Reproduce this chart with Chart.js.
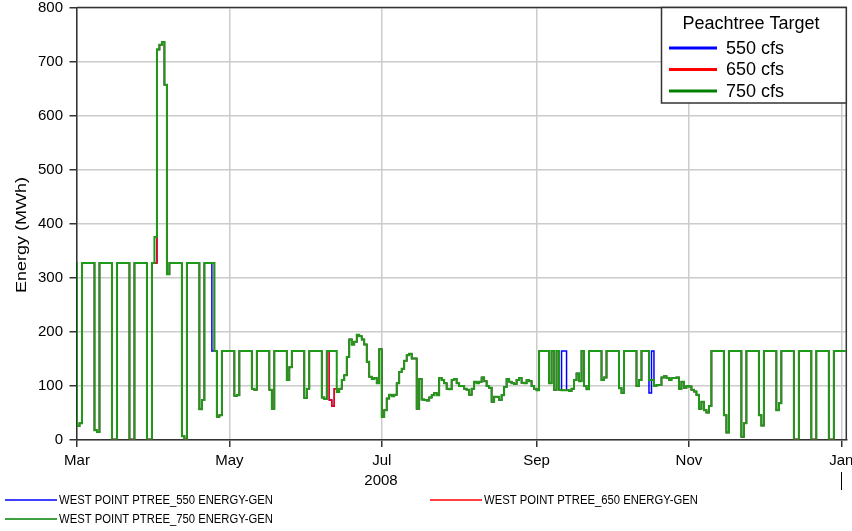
<!DOCTYPE html>
<html>
<head>
<meta charset="utf-8">
<title>West Point Energy Generation 2008</title>
<script src="https://cdn.jsdelivr.net/npm/chart.js@4.4.1/dist/chart.umd.min.js"></script>
<style>
  html, body { margin: 0; padding: 0; background: #fff; }
  #chart { display: block; }
</style>
</head>
<body>
<canvas id="chart" width="852" height="531"></canvas>
<script>
// Daily energy (MWh), one value per day. First entry is Feb 29 2008 (day -1), day 0 = Mar 1.
const firstDay = -1;
const gen750 = [
    // Feb 29, Mar
    327, 25, 30, 327, 327, 327, 327, 327, 17, 14, 327, 327, 327, 327, 327, 0, 0,
    327, 327, 327, 327, 327, 0, 0, 327, 327, 327, 327, 327, 0, 0, 327,
    // Apr
    375, 722, 731, 736, 657, 306, 327, 327, 327, 327, 327, 6, 0, 327, 327, 327, 327, 327,
    56, 73, 327, 327, 327, 327, 164, 42, 45, 164, 164, 164,
    // May
    164, 164, 81, 82, 164, 164, 164, 164, 164, 94, 92, 164, 164, 164, 164, 164, 92, 57,
    164, 164, 164, 164, 164, 110, 134, 164, 164, 164, 164, 164, 77,
    // Jun
    94, 164, 164, 164, 164, 164, 78, 75, 164, 164, 164, 164, 88, 94, 110, 119, 153, 185,
    176, 181, 194, 191, 185, 176, 144, 116, 112, 114, 104, 167,
    // Jul
    42, 54, 76, 83, 80, 83, 104, 125, 131, 146, 156, 159, 150, 150, 57, 112, 74, 73,
    72, 78, 82, 86, 82, 114, 110, 104, 94, 93, 110, 112, 104,
    // Aug
    99, 99, 94, 92, 83, 94, 107, 104, 107, 115, 108, 99, 96, 70, 79, 79, 73, 82,
    97, 112, 107, 104, 103, 110, 114, 105, 104, 110, 108, 99, 94,
    // Sep
    91, 164, 164, 164, 164, 104, 164, 92, 164, 92, 91, 91, 91, 90, 94, 110, 122, 108,
    164, 99, 93, 164, 164, 164, 164, 164, 110, 115, 164, 164,
    // Oct
    164, 164, 164, 95, 86, 164, 164, 164, 164, 164, 99, 110, 164, 164, 164, 110, 110, 99,
    101, 101, 115, 117, 114, 110, 114, 114, 115, 94, 107, 96, 99,
    // Nov
    98, 92, 89, 83, 57, 70, 54, 50, 62, 164, 164, 164, 164, 164, 45, 13, 164, 164,
    164, 164, 164, 5, 30, 164, 164, 164, 164, 164, 45, 26,
    // Dec
    164, 164, 164, 164, 164, 54, 67, 164, 164, 164, 164, 164, 0, 0, 164, 164, 164, 164,
    164, 0, 0, 164, 164, 164, 164, 164, 0, 0, 164, 164, 164,
    // Jan 2009
    164, 164, 164
];

// Days where the 650 / 550 cfs runs differ from the 750 cfs run: [day, MWh]
const diff650 = [[31, 327], [101, 73], [102, 62], [103, 94]];
const diff550 = [[31, 327], [54, 164], [101, 73], [102, 62], [103, 94],
                 [194, 164], [195, 164], [229, 86], [230, 164]];

const monthDays = [0, 61, 122, 184, 245, 306];
const monthLabels = ['Mar', 'May', 'Jul', 'Sep', 'Nov', 'Jan'];
const seriesNames = [
    'WEST POINT PTREE_550 ENERGY-GEN',
    'WEST POINT PTREE_650 ENERGY-GEN',
    'WEST POINT PTREE_750 ENERGY-GEN'
];
const targetLabels = ['550 cfs', '650 cfs', '750 cfs'];
const legendColors = ['#0000ff', '#ff0000', '#008000'];

const FONT = "'Liberation Sans', Arial, sans-serif";
Chart.defaults.font.family = FONT;

function toPoints(values, overrides) {
    const fix = new Map(overrides || []);
    return values.map(function(v, i) {
        const day = firstDay + i;
        return { x: day, y: fix.has(day) ? fix.get(day) : v };
    });
}

// frame, legends and extra labels
const decorations = {
    id: 'decorations',
    beforeDatasetsDraw(chart) {
        const ctx = chart.ctx;
        const a = chart.chartArea;
        ctx.save();
        ctx.strokeStyle = '#333';
        ctx.lineWidth = 1.5;
        ctx.beginPath();
        ctx.moveTo(a.left, a.top);
        ctx.lineTo(a.right, a.top);
        ctx.lineTo(a.right, a.bottom);
        ctx.stroke();
        ctx.restore();
    },
    afterDraw(chart) {
        const ctx = chart.ctx;
        const a = chart.chartArea;
        ctx.save();

        // Peachtree Target legend box
        ctx.fillStyle = '#fff';
        ctx.strokeStyle = '#333';
        ctx.lineWidth = 1.5;
        ctx.fillRect(661.5, a.top, a.right - 661.5, 95.5);
        ctx.strokeRect(661.5, a.top, a.right - 661.5, 95.5);
        ctx.fillStyle = '#000';
        ctx.font = '18px ' + FONT;
        ctx.textAlign = 'center';
        ctx.textBaseline = 'middle';
        ctx.fillText('Peachtree Target', 751, 24);
        ctx.textAlign = 'left';
        targetLabels.forEach(function(lbl, i) {
            const y = 48 + i * 21.5;
            ctx.strokeStyle = legendColors[i];
            ctx.lineWidth = 3;
            ctx.beginPath();
            ctx.moveTo(669, y);
            ctx.lineTo(717, y);
            ctx.stroke();
            ctx.fillText(lbl, 726, y + 1);
        });

        // y axis title
        ctx.save();
        ctx.translate(22, 235);
        ctx.rotate(-Math.PI / 2);
        ctx.scale(1.2, 1);
        ctx.font = '15px ' + FONT;
        ctx.textAlign = 'center';
        ctx.fillText('Energy (MWh)', 0, 0);
        ctx.restore();

        // year label and year boundary mark
        ctx.font = '15px ' + FONT;
        ctx.textAlign = 'center';
        ctx.fillText('2008', 381, 481);
        ctx.strokeStyle = '#000';
        ctx.lineWidth = 1;
        ctx.beginPath();
        ctx.moveTo(841.5, 472);
        ctx.lineTo(841.5, 490);
        ctx.stroke();

        // series legend below the chart
        const spots = [[5, 500], [430, 500], [5, 519]];
        ctx.font = '12px ' + FONT;
        ctx.textAlign = 'left';
        seriesNames.forEach(function(name, i) {
            const x = spots[i][0], y = spots[i][1];
            ctx.strokeStyle = legendColors[i];
            ctx.lineWidth = 1.5;
            ctx.beginPath();
            ctx.moveTo(x, y);
            ctx.lineTo(x + 52, y);
            ctx.stroke();
            ctx.save();
            ctx.translate(x + 54, y + 1);
            ctx.scale(0.94, 1);
            ctx.fillText(name, 0, 0);
            ctx.restore();
        });
        ctx.restore();
    }
};

new Chart(document.getElementById('chart'), {
    type: 'line',
    data: {
        datasets: [
            { label: seriesNames[0], data: toPoints(gen750, diff550), borderColor: '#0000ff', borderWidth: 1.5, order: 3 },
            { label: seriesNames[1], data: toPoints(gen750, diff650), borderColor: '#ff0000', borderWidth: 1.5, order: 2 },
            { label: seriesNames[2], data: toPoints(gen750), borderColor: '#1f9a18', borderWidth: 2, order: 1 }
        ]
    },
    options: {
        responsive: false,
        animation: false,
        layout: {
            autoPadding: false,
            padding: { top: 7.5, right: 5.7, bottom: 0, left: 0 }
        },
        elements: {
            line: { stepped: true, tension: 0, fill: false },
            point: { radius: 0, hoverRadius: 0 }
        },
        plugins: {
            legend: { display: false },
            tooltip: { enabled: false }
        },
        scales: {
            x: {
                type: 'linear',
                min: 0,
                max: 308,
                afterFit: function(scale) {
                    scale.height = 91.5;
                    scale.paddingLeft = 0;
                    scale.paddingRight = 0;
                },
                afterBuildTicks: function(scale) {
                    scale.ticks = monthDays.map(function(d) { return { value: d }; });
                },
                ticks: {
                    autoSkip: false,
                    maxRotation: 0,
                    padding: 4.5,
                    color: '#000',
                    font: { size: 15 },
                    callback: function(value, index) { return monthLabels[index]; }
                },
                grid: {
                    color: '#cccccc',
                    lineWidth: 1.5,
                    tickColor: '#333',
                    tickLength: 7.5,
                    tickWidth: 1.5
                },
                border: { color: '#333', width: 1.5 }
            },
            y: {
                min: 0,
                max: 800,
                afterFit: function(scale) {
                    scale.width = 77;
                    scale.paddingTop = 0;
                    scale.paddingBottom = 0;
                },
                ticks: {
                    stepSize: 100,
                    padding: 6.5,
                    color: '#000',
                    font: { size: 15 }
                },
                grid: {
                    color: '#cccccc',
                    lineWidth: 1.5,
                    tickColor: '#333',
                    tickLength: 7.5,
                    tickWidth: 1.5
                },
                border: { color: '#333', width: 1.5 }
            }
        }
    },
    plugins: [decorations]
});
</script>
</body>
</html>
